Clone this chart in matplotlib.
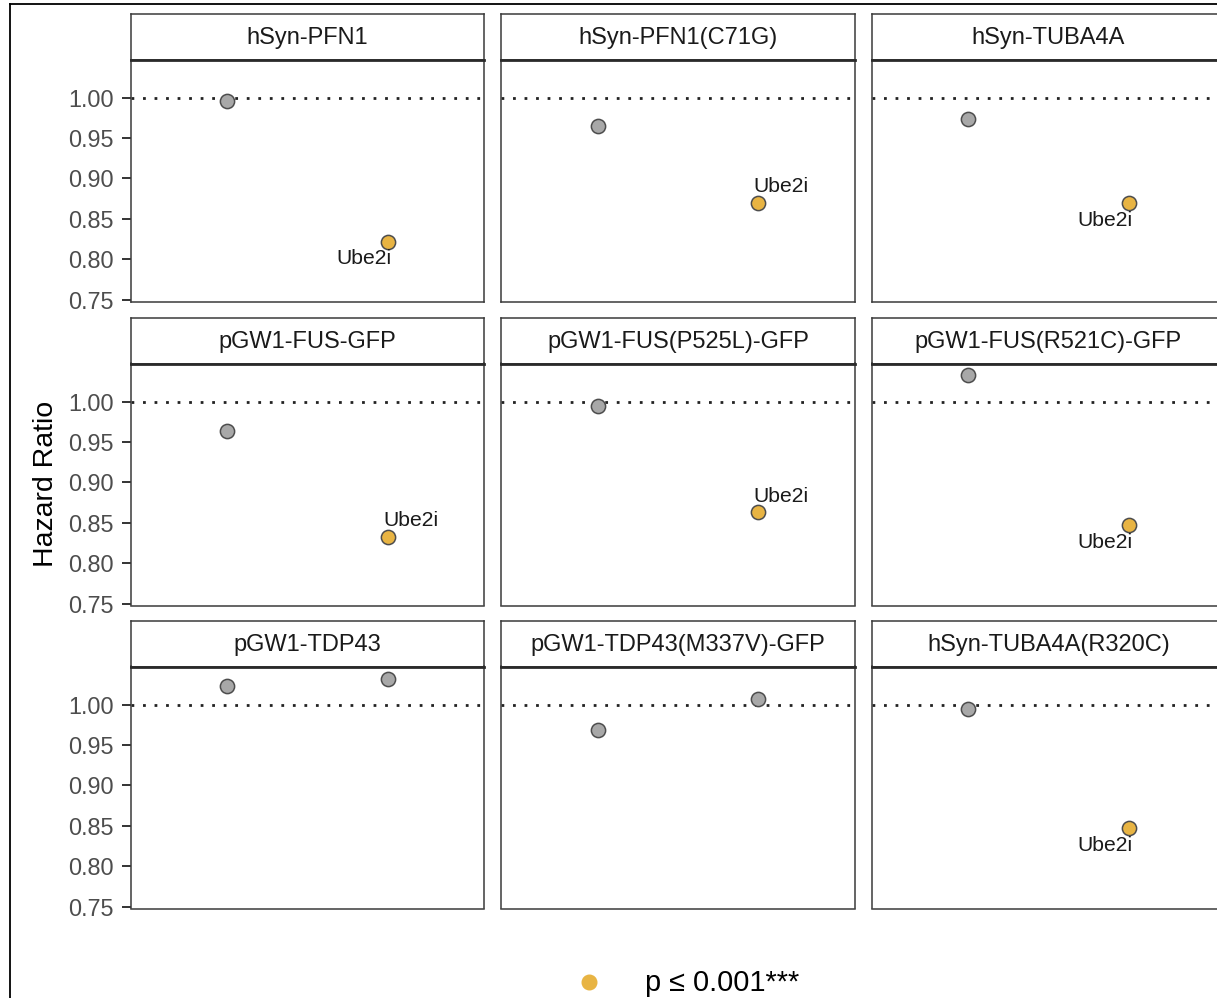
import matplotlib
matplotlib.use("Agg")
import matplotlib.pyplot as plt
from matplotlib.lines import Line2D

plt.rcParams['font.family'] = ['Liberation Sans', 'DejaVu Sans']

# panel titles, hazard ratios for control (x=1) and Ube2i (x=2), significance of Ube2i
panels = ["hSyn-PFN1", "hSyn-PFN1(C71G)", "hSyn-TUBA4A",
          "pGW1-FUS-GFP", "pGW1-FUS(P525L)-GFP", "pGW1-FUS(R521C)-GFP",
          "pGW1-TDP43", "pGW1-TDP43(M337V)-GFP", "hSyn-TUBA4A(R320C)"]
hr_ctrl = [0.996, 0.965, 0.974, 0.964, 0.994, 1.033, 1.023, 0.968, 0.995]
hr_ube2i = [0.822, 0.870, 0.870, 0.833, 0.863, 0.847, 1.032, 1.007, 0.847]
ube2i_sig = [True, True, True, True, True, True, False, False, True]
label_side = ["below", "above", "below", "above", "above", "below", None, None, "below"]
yticks = [0.75, 0.80, 0.85, 0.90, 0.95, 1.00]

W, H = 1217, 998
fig = plt.figure(figsize=(W / 100, H / 100), dpi=100)


def box(left, top, w, h):
    return [left / W, 1 - (top + h) / H, w / W, h / H]


col_left = [130.5, 501, 871.5]
row_top = [14, 318, 621]
pw, strip_h, panel_h = 354, 45.5, 242

grey = "#A8A8A8"
gold = "#E8B443"
edge = "#4D4D4D"
frame = "#3A3A3A"

for i, name in enumerate(panels):
    r, c = divmod(i, 3)
    x0, y0 = col_left[c], row_top[r]

    # strip
    sax = fig.add_axes(box(x0, y0, pw, strip_h))
    sax.set_xticks([])
    sax.set_yticks([])
    for s in sax.spines.values():
        s.set_color(frame)
        s.set_linewidth(1.1)
    sax.text(0.5, 0.47, name, ha="center", va="center", fontsize=17,
             color="#1A1A1A", transform=sax.transAxes)

    ax = fig.add_axes(box(x0, y0 + strip_h, pw, panel_h))
    ax.set_xlim(0.4, 2.6)
    ax.set_ylim(0.748, 1.047)
    ax.axhline(1.0, color="#222222", lw=2.0, linestyle=(0, (1, 3.15)), zorder=1)
    ax.scatter([1], [hr_ctrl[i]], s=105, color=grey, edgecolor=edge, lw=1.1, zorder=3)
    ax.scatter([2], [hr_ube2i[i]], s=105, color=gold if ube2i_sig[i] else grey,
               edgecolor=edge, lw=1.1, zorder=3)
    if label_side[i] == "above":
        ax.annotate("Ube2i", (2, hr_ube2i[i]), xytext=(16.5, 11.5), textcoords="offset points",
                    ha="center", va="center", fontsize=15.2, color="#1A1A1A")
    elif label_side[i] == "below":
        ax.annotate("Ube2i", (2, hr_ube2i[i]), xytext=(-17, -12.5), textcoords="offset points",
                    ha="center", va="center", fontsize=15.2, color="#1A1A1A")

    ax.set_xticks([])
    for s in ax.spines.values():
        s.set_color(frame)
        s.set_linewidth(1.1)
    ax.spines["top"].set_linewidth(2.0)
    ax.spines["top"].set_color("#2A2A2A")
    if c == 0:
        ax.set_yticks(yticks)
        ax.set_yticklabels([f"{v:.2f}" for v in yticks])
        ax.tick_params(axis="y", length=6.5, width=1.4, color="#333333", pad=5.5,
                       labelsize=16.8, labelcolor="#4D4D4D")
    else:
        ax.set_yticks([])

fig.text(46 / W, 1 - 484 / H, "Hazard Ratio", rotation=90, ha="center", va="center",
         fontsize=20.5, color="black")

# legend
fig.add_artist(Line2D([589 / W], [1 - 982 / H], marker="o", markersize=10.5,
                      color=gold, linestyle="none"))
fig.text(645 / W, 1 - 983 / H, "p \u2264 0.001***", ha="left", va="center",
         fontsize=20.8, color="black")

# outer frame lines of the cropped page
fig.add_artist(Line2D([10 / W, 1], [1 - 4 / H, 1 - 4 / H], color="black", lw=1.3))
fig.add_artist(Line2D([10 / W, 10 / W], [1 - 4 / H, 0], color="black", lw=1.3))

fig.savefig("out.png", dpi=100)
